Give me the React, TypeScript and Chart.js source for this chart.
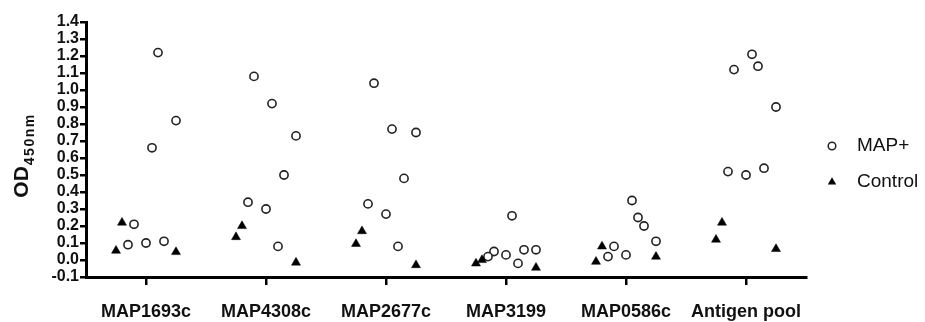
import React, { useEffect, useRef } from "react";
import { Chart, registerables } from "chart.js";

Chart.register(...registerables);

const categories = ["MAP1693c", "MAP4308c", "MAP2677c", "MAP3199", "MAP0586c", "Antigen pool"];

// MAP+ readings (OD450nm) per category, and their horizontal jitter within the category
const mapPlusValues = [
  [1.22, 0.82, 0.66, 0.21, 0.09, 0.10, 0.11],
  [1.08, 0.92, 0.73, 0.50, 0.34, 0.30, 0.08],
  [1.04, 0.77, 0.75, 0.48, 0.33, 0.27, 0.08],
  [0.26, 0.05, 0.02, 0.03, 0.06, 0.06, -0.02],
  [0.35, 0.25, 0.20, 0.11, 0.08, 0.02, 0.03],
  [1.21, 1.12, 1.14, 0.90, 0.52, 0.50, 0.54],
];
const mapPlusJitter = [
  [0.10, 0.25, 0.05, -0.10, -0.15, 0.0, 0.15],
  [-0.10, 0.05, 0.25, 0.15, -0.15, 0.0, 0.10],
  [-0.10, 0.05, 0.25, 0.15, -0.15, 0.0, 0.10],
  [0.05, -0.10, -0.15, 0.0, 0.15, 0.25, 0.10],
  [0.05, 0.10, 0.15, 0.25, -0.10, -0.15, 0.0],
  [0.05, -0.10, 0.10, 0.25, -0.15, 0.0, 0.15],
];

// Control readings per category and jitter
const controlValues = [
  [0.22, 0.055, 0.047],
  [0.20, 0.135, -0.015],
  [0.17, 0.095, -0.03],
  [0.0, -0.02, -0.045],
  [0.08, -0.01, 0.02],
  [0.22, 0.12, 0.065],
];
const controlJitter = [
  [-0.20, -0.25, 0.25],
  [-0.20, -0.25, 0.25],
  [-0.20, -0.25, 0.25],
  [-0.20, -0.25, 0.25],
  [-0.20, -0.25, 0.25],
  [-0.20, -0.25, 0.25],
];

const yMin = -0.1;
const yMax = 1.4;
const yStep = 0.1;

const seriesNames = ["MAP+", "Control"];
const yTitleMain = "OD";
const yTitleSub = "450nm";

const FONT = '"Liberation Sans", Arial, Helvetica, sans-serif';

function toPoints(values: number[][], jitter: number[][]) {
  const pts: { x: number; y: number }[] = [];
  values.forEach((arr, i) => {
    arr.forEach((v, j) => pts.push({ x: i + jitter[i][j], y: v }));
  });
  return pts;
}

const overlayPlugin = {
  id: "overlay",
  afterDraw(chart: any) {
    const ctx = chart.ctx;
    const area = chart.chartArea;
    ctx.save();
    // Y axis title with subscript
    const cy = (area.top + area.bottom) / 2 + 6;
    ctx.translate(28, cy);
    ctx.rotate(-Math.PI / 2);
    ctx.fillStyle = "#111";
    ctx.textBaseline = "alphabetic";
    ctx.font = `bold 21px ${FONT}`;
    const wMain = ctx.measureText(yTitleMain).width;
    ctx.font = `bold 14px ${FONT}`;
    (ctx as any).letterSpacing = "1.5px";
    const wSub = ctx.measureText(yTitleSub).width;
    const total = wMain + 1 + wSub;
    const start = -total / 2;
    (ctx as any).letterSpacing = "0px";
    ctx.font = `bold 21px ${FONT}`;
    ctx.textAlign = "left";
    ctx.fillText(yTitleMain, start, 0);
    ctx.font = `bold 14px ${FONT}`;
    (ctx as any).letterSpacing = "1.5px";
    ctx.fillText(yTitleSub, start + wMain + 1, 6);
    (ctx as any).letterSpacing = "0px";
    ctx.restore();

    // Legend
    ctx.save();
    const lx = area.right + 26;
    const ly1 = 146;
    const ly2 = 182;
    ctx.strokeStyle = "#222";
    ctx.lineWidth = 1.5;
    ctx.fillStyle = "#fff";
    ctx.beginPath();
    ctx.arc(lx, ly1, 3.8, 0, Math.PI * 2);
    ctx.fill();
    ctx.stroke();
    ctx.fillStyle = "#000";
    const r = 4.8;
    ctx.beginPath();
    ctx.moveTo(lx, ly2 - r);
    ctx.lineTo(lx + r * Math.sin((2 * Math.PI) / 3), ly2 - r * Math.cos((2 * Math.PI) / 3));
    ctx.lineTo(lx + r * Math.sin((4 * Math.PI) / 3), ly2 - r * Math.cos((4 * Math.PI) / 3));
    ctx.closePath();
    ctx.fill();
    ctx.font = `19px ${FONT}`;
    ctx.fillStyle = "#111";
    ctx.textAlign = "left";
    ctx.textBaseline = "middle";
    ctx.fillText(seriesNames[0], lx + 25, ly1);
    ctx.fillText(seriesNames[1], lx + 25, ly2);
    ctx.restore();
  },
};

export default function App() {
  const ref = useRef<HTMLCanvasElement | null>(null);
  useEffect(() => {
    if (!ref.current) return;
    const chart = new Chart(ref.current, {
      type: "scatter",
      data: {
        datasets: [
          {
            label: seriesNames[1],
            data: toPoints(controlValues, controlJitter),
            pointStyle: "triangle",
            pointRadius: 5.2,
            pointBackgroundColor: "#000",
            pointBorderColor: "#000",
            pointBorderWidth: 0.5,
          },
          {
            label: seriesNames[0],
            data: toPoints(mapPlusValues, mapPlusJitter),
            pointStyle: "circle",
            pointRadius: 4.1,
            pointBackgroundColor: "#fff",
            pointBorderColor: "#222",
            pointBorderWidth: 1.6,
          },
        ],
      },
      options: {
        animation: false,
        responsive: false,
        maintainAspectRatio: false,
        layout: { padding: { top: 22, right: 119, left: 0, bottom: 0 } },
        plugins: { legend: { display: false }, tooltip: { enabled: false } },
        scales: {
          x: {
            type: "linear",
            min: -0.5,
            max: categories.length - 0.5,
            afterBuildTicks: (scale: any) => {
              scale.ticks = categories.map((_, i) => ({ value: i }));
            },
            afterFit: (scale: any) => {
              scale.height = 45;
            },
            grid: {
              display: true,
              drawOnChartArea: false,
              drawTicks: true,
              tickLength: 8,
              color: "#000",
              lineWidth: 2.5,
            },
            border: { display: true, color: "#000", width: 3 },
            ticks: {
              autoSkip: false,
              maxRotation: 0,
              padding: 16,
              color: "#111",
              font: { family: FONT, size: 18, weight: "bold" },
              callback: (v: any) => categories[Math.round(Number(v))] ?? "",
            },
          },
          y: {
            type: "linear",
            min: yMin,
            max: yMax,
            afterFit: (scale: any) => {
              scale.width = 86;
            },
            grid: {
              display: true,
              drawOnChartArea: false,
              drawTicks: true,
              tickLength: 6,
              color: "#000",
              lineWidth: 2.5,
            },
            border: { display: true, color: "#000", width: 3 },
            ticks: {
              stepSize: yStep,
              autoSkip: false,
              padding: 1,
              color: "#111",
              font: { family: FONT, size: 16, weight: "bold", lineHeight: 1 },
              callback: (v: any) => Number(v).toFixed(1),
            },
          },
        },
      },
      plugins: [overlayPlugin],
    } as any);
    return () => chart.destroy();
  }, []);
  return (
    <div style={{ position: "fixed", left: 0, top: 0, width: 925, height: 322, background: "#fff" }}>
      <canvas ref={ref} width={925} height={322} style={{ width: 925, height: 322 }} />
    </div>
  );
}
